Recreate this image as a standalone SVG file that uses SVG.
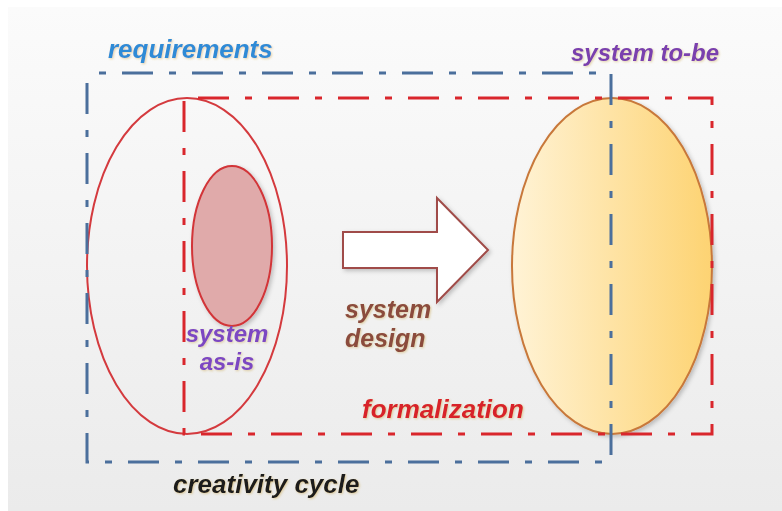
<svg xmlns="http://www.w3.org/2000/svg" width="782" height="511" viewBox="0 0 782 511">
<defs>
<linearGradient id="bg" x1="0" y1="0" x2="0" y2="1">
<stop offset="0" stop-color="#fbfbfb"/>
<stop offset="1" stop-color="#ebebeb"/>
</linearGradient>
<linearGradient id="gold" x1="0" y1="0" x2="1" y2="0">
<stop offset="0" stop-color="#fff3d6"/>
<stop offset="1" stop-color="#fdd372"/>
</linearGradient>
<filter id="sh" x="-20%" y="-20%" width="140%" height="140%">
<feDropShadow dx="2" dy="2" stdDeviation="2" flood-color="#000" flood-opacity="0.22"/>
</filter>
<filter id="tsh" x="-10%" y="-30%" width="120%" height="160%">
<feDropShadow dx="1" dy="1" stdDeviation="0.8" flood-color="#c8a040" flood-opacity="0.45"/>
</filter>
</defs>
<style>
text{font-family:"Liberation Sans",Arial,sans-serif;font-weight:bold;font-style:italic;}
.blue{fill:none;stroke:#4b6f9c;stroke-width:3;stroke-dasharray:31 16 7 16;}
.red{fill:none;stroke:#d9262c;stroke-width:3;stroke-dasharray:31 16 7 16;}
</style>
<rect x="8" y="7" width="774" height="504" fill="url(#bg)"/>

<g id="system-as-is-outer">
<ellipse cx="187" cy="266" rx="100" ry="168" fill="none" stroke="#d43a3e" stroke-width="2"/>
</g>
<g id="system-as-is">
<ellipse cx="232" cy="246" rx="40" ry="80" fill="#e0aaaa" stroke="#d23438" stroke-width="2" filter="url(#sh)"/>
<text x="227" y="342" font-size="24" fill="#7b46c2" text-anchor="middle" filter="url(#tsh)">system</text>
<text x="227" y="370" font-size="24" fill="#7b46c2" text-anchor="middle" filter="url(#tsh)">as-is</text>
</g>
<g id="system-to-be">
<ellipse cx="612" cy="266" rx="100" ry="168" fill="url(#gold)" stroke="#c8783a" stroke-width="2" filter="url(#sh)"/>
<text x="571" y="61" font-size="24" fill="#7a3fae" filter="url(#tsh)">system to-be</text>
</g>

<g id="connectors">
<polygon points="343,232 437,232 437,198 488,250 437,302 437,268 343,268" fill="#ffffff" stroke="#a04c48" stroke-width="2" filter="url(#sh)"/>
</g>
<g id="system-design">
<text x="345" y="318" font-size="25" fill="#8b4b3c" filter="url(#tsh)">system</text>
<text x="345" y="347" font-size="25" fill="#8b4b3c" filter="url(#tsh)">design</text>
</g>

<g id="formalization">
<rect class="red" x="184" y="98" width="528" height="336" stroke-dashoffset="-14"/>
<text x="362" y="418" font-size="26" fill="#d8232a" filter="url(#tsh)">formalization</text>
</g>
<g id="requirements">
<rect class="blue" x="87" y="73" width="524" height="389" stroke-dashoffset="35"/>
<text x="108" y="58" font-size="26" fill="#2e8bd6" filter="url(#tsh)">requirements</text>
</g>
<g id="creativity-cycle">
<text x="173" y="493" font-size="26" fill="#1a1a1a" filter="url(#tsh)">creativity cycle</text>
</g>
</svg>
